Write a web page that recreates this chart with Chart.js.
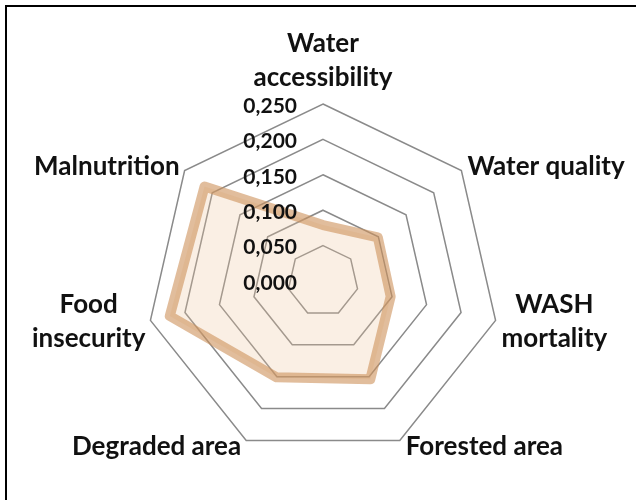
<!DOCTYPE html>
<html>
<head>
<meta charset="utf-8">
<script src="https://cdn.jsdelivr.net/npm/chart.js@4.4.1/dist/chart.umd.min.js"></script>
<style>
    body { margin: 0; background: #fff; }
    #wrap { position: relative; width: 636px; height: 500px; overflow: hidden; }
    #frame { position: absolute; left: 5px; top: 5px; right: -10px; bottom: -10px;
             border-top: 2px solid #000; border-left: 2px solid #000; }
    #radar { position: absolute; left: 0; top: 0; }
</style>
</head>
<body>
<div id="wrap">
    <div id="frame"></div>
    <canvas id="radar" width="636" height="500"></canvas>
</div>
<script>
// Indicator scores per dimension
const axisLabels = [
    ['Water', 'accessibility'],
    'Water quality',
    ['WASH', 'mortality'],
    'Forested area',
    'Degraded area',
    ['Food', 'insecurity'],
    'Malnutrition'
];
const scores = [0.079, 0.099, 0.098, 0.154, 0.151, 0.222, 0.214];
const scaleMin = 0;
const scaleMax = 0.25;
const scaleStep = 0.05;

const labelFont = '700 26px Lato';
const tickFont = '700 21px Lato';
const textColor = '#111';

// axis names around the web, placed next to each outer vertex
const axisNamePlugin = {
    id: 'axisNames',
    afterDraw(chart) {
        const scale = chart.scales.r;
        const ctx = chart.ctx;
        const lineH = 34;
        ctx.save();
        ctx.font = labelFont;
        ctx.fillStyle = textColor;
        ctx.textAlign = 'center';
        ctx.textBaseline = 'middle';
        scale._pointLabels.forEach((label, i) => {
            const lines = Array.isArray(label) ? label : [label];
            const w = Math.max(...lines.map(l => ctx.measureText(l).width));
            const h = lines.length * lineH;
            const p = scale.getPointPosition(i, scale.drawingArea);
            const dx = Math.cos(p.angle);
            const dy = Math.sin(p.angle);
            let cx, cy;
            if (Math.abs(dx) < 0.1) {
                cx = p.x;
                cy = p.y - 9 - h / 2;
            } else {
                cx = dx > 0 ? p.x + 6 + w / 2 : p.x - 5 - w / 2;
                cy = p.y + 7 * dy;
            }
            lines.forEach((line, k) => {
                ctx.fillText(line, cx, cy - h / 2 + lineH * (k + 0.5));
            });
        });
        ctx.restore();
    }
};

// value labels stacked left of the vertical axis
const tickLabelPlugin = {
    id: 'tickLabels',
    afterDraw(chart) {
        const scale = chart.scales.r;
        const ctx = chart.ctx;
        ctx.save();
        ctx.font = tickFont;
        ctx.fillStyle = textColor;
        ctx.textAlign = 'right';
        ctx.textBaseline = 'middle';
        scale.ticks.forEach(t => {
            const y = scale.yCenter - scale.getDistanceFromCenterForValue(t.value);
            ctx.fillText(t.value.toFixed(3).replace('.', ','), scale.xCenter - 26, y + 2);
        });
        ctx.restore();
    }
};

new Chart(document.getElementById('radar'), {
    type: 'radar',
    data: {
        labels: axisLabels,
        datasets: [{
            data: scores,
            borderColor: 'rgba(205, 145, 90, 0.6)',
            backgroundColor: 'rgba(235, 195, 155, 0.27)',
            borderWidth: 10,
            borderJoinStyle: 'round',
            pointRadius: 0,
            fill: true,
            tension: 0
        }]
    },
    options: {
        responsive: false,
        animation: false,
        layout: { padding: { top: 104, bottom: 42, left: 10, right: 0 } },
        plugins: {
            legend: { display: false },
            tooltip: { enabled: false }
        },
        scales: {
            r: {
                min: scaleMin,
                max: scaleMax,
                ticks: { stepSize: scaleStep, display: false },
                angleLines: { display: false },
                grid: { color: '#8a8a8a', lineWidth: 1.5 },
                pointLabels: { display: false }
            }
        }
    },
    plugins: [axisNamePlugin, tickLabelPlugin]
});
</script>
</body>
</html>
